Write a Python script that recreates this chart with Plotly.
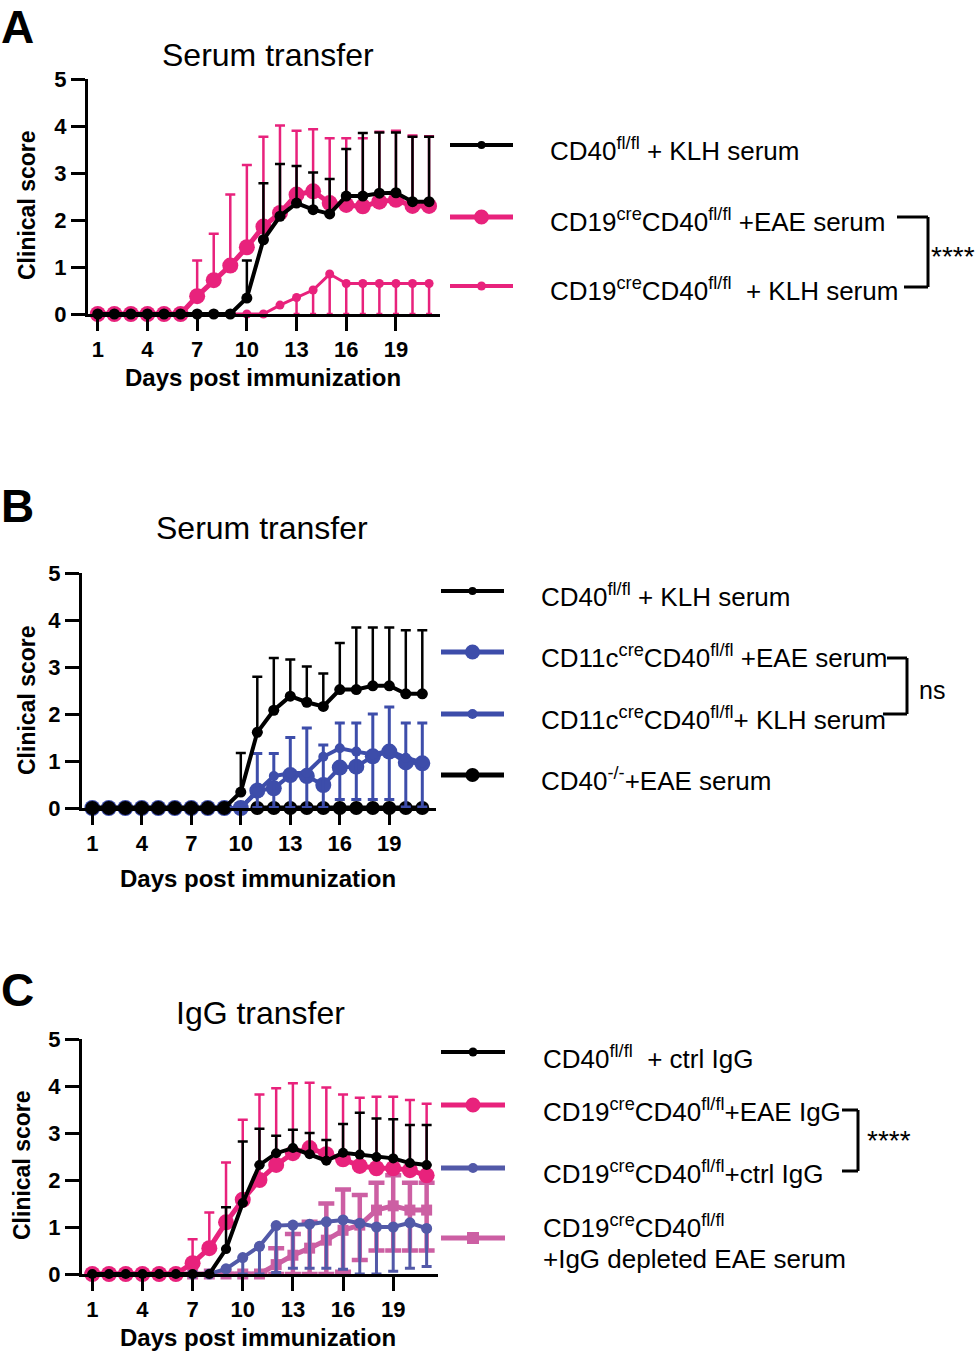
import plotly.graph_objects as go

W, H = 979, 1351
FONT = "Liberation Sans, Arial, Helvetica, sans-serif"
PINK = "#E8227C"
BLUE_B = "#3D4DAA"
BLUE_C = "#5259A8"
MAUVE = "#CC5FA3"
BLACK = "#000000"

days = list(range(1, 22))
x_ticks = [1, 4, 7, 10, 13, 16, 19]
y_ticks = [0, 1, 2, 3, 4, 5]

# ---------- Panel A : serum transfer ----------
A_ctrl_klh = [0]*9 + [0.34, 1.58, 2.08, 2.36, 2.22, 2.13, 2.51, 2.51, 2.57, 2.58, 2.39, 2.39]
A_ctrl_klh_sd = [0]*9 + [0.80, 1.20, 1.11, 0.79, 0.79, 0.74, 1.00, 1.34, 1.29, 1.28, 1.38, 1.38]
A_cd19_eae = [0]*6 + [0.38, 0.72, 1.03, 1.42, 1.86, 2.15, 2.54, 2.61, 2.36, 2.32, 2.29, 2.39, 2.43, 2.30, 2.30]
A_cd19_eae_sd = [0]*6 + [0.76, 0.99, 1.51, 1.75, 1.91, 1.86, 1.36, 1.32, 1.38, 1.42, 1.45, 1.49, 1.47, 1.50, 1.48]
A_cd19_klh = [0]*11 + [0.19, 0.35, 0.51, 0.85, 0.65, 0.65, 0.65, 0.65, 0.65, 0.65]
A_cd19_klh_sd_minus = [0]*12 + [0.35, 0.51, 0.85, 0.65, 0.65, 0.65, 0.65, 0.65, 0.65]

# ---------- Panel B : serum transfer (CD11c) ----------
B_ctrl_klh = [0]*9 + [0.34, 1.61, 2.08, 2.38, 2.25, 2.16, 2.52, 2.52, 2.60, 2.60, 2.43, 2.43]
B_ctrl_klh_sd = [0]*9 + [0.83, 1.18, 1.11, 0.78, 0.76, 0.70, 0.99, 1.32, 1.24, 1.24, 1.35, 1.35]
B_cd11c_eae = [0]*10 + [0.37, 0.42, 0.70, 0.68, 0.49, 0.86, 0.88, 1.10, 1.20, 0.97, 0.95]
B_cd11c_klh = [0]*10 + [0.35, 0.68, 0.74, 0.75, 1.09, 1.27, 1.20, 1.14, 1.22, 1.07, 0.97]
B_cd11c_plus = [0]*10 + [0.81, 0.48, 0.76, 0.95, 0.25, 0.54, 0.61, 0.86, 0.93, 0.74, 0.84]
B_cd11c_minus = [0]*10 + [0.34, 0.67, 0.73, 0.74, 1.08, 1.09, 1.02, 0.96, 1.04, 1.05, 0.95]
B_ko_eae = [0]*9 + [None] + [0]*11

# ---------- Panel C : IgG transfer ----------
C_ctrl_igg = [0]*8 + [0.53, 1.51, 2.32, 2.57, 2.68, 2.55, 2.41, 2.58, 2.54, 2.49, 2.46, 2.36, 2.32]
C_ctrl_igg_sd = [0]*8 + [0.89, 1.31, 0.77, 0.37, 0.39, 0.45, 0.44, 0.61, 0.89, 0.82, 0.83, 0.81, 0.85]
C_cd19_eae = [0]*6 + [0.23, 0.55, 1.10, 1.58, 2.00, 2.32, 2.57, 2.68, 2.55, 2.44, 2.30, 2.25, 2.25, 2.21, 2.10]
C_cd19_eae_sd = [0]*6 + [0.51, 0.76, 1.27, 1.70, 1.82, 1.63, 1.49, 1.39, 1.42, 1.38, 1.45, 1.52, 1.52, 1.49, 1.52]
C_cd19_ctrl = [0]*8 + [0.11, 0.35, 0.59, 1.03, 1.04, 1.06, 1.11, 1.15, 1.08, 1.00, 1.00, 1.09, 0.97]
C_cd19_ctrl_minus = [0]*8 + [0, 0.35, 0.59, 1.00, 0.92, 0.94, 0.99, 1.05, 1.08, 1.00, 0.94, 0.97, 0.81]
C_cd19_depl = [0]*11 + [0.20, 0.40, 0.55, 0.72, 0.93, 1.04, 1.36, 1.45, 1.36, 1.36]
C_cd19_depl_plus = [0]*11 + [0.35, 0.45, 0.56, 0.78, 0.87, 0.64, 0.58, 0.65, 0.58, 0.58]
C_cd19_depl_minus = [0]*11 + [0.20, 0.40, 0.55, 0.72, 0.88, 0.74, 0.86, 0.95, 0.86, 0.86]


def px(x):
    return x / W


def py(y):
    return 1 - y / H


fig = go.Figure()


def add(n, y, color, size, lw, symbol="circle", plus=None, minus=None,
        capw=5, ethick=2.5):
    xa = "x" if n == 1 else f"x{n}"
    ya = "y" if n == 1 else f"y{n}"
    tr = go.Scatter(
        x=days, y=y, xaxis=xa, yaxis=ya, mode="lines+markers",
        line=dict(color=color, width=lw),
        marker=dict(color=color, size=size, symbol=symbol, line=dict(width=0)),
        cliponaxis=False, showlegend=False, hoverinfo="skip",
    )
    if plus is not None or minus is not None:
        tr.error_y = dict(
            type="data", symmetric=False, visible=True,
            array=plus if plus is not None else [0]*len(days),
            arrayminus=minus if minus is not None else [0]*len(days),
            color=color, thickness=ethick, width=capw,
        )
    fig.add_trace(tr)


# Panel A traces
add(1, A_cd19_klh, PINK, 9, 3, minus=A_cd19_klh_sd_minus, capw=3, ethick=2.5)
add(1, A_cd19_eae, PINK, 16, 5, plus=A_cd19_eae_sd)
add(1, A_ctrl_klh, BLACK, 11, 4, plus=A_ctrl_klh_sd)

# Panel B traces
add(2, B_cd11c_eae, BLUE_B, 16, 4)
add(2, B_ko_eae, BLACK, 14, 5)
add(2, B_cd11c_klh, BLUE_B, 10, 4, plus=B_cd11c_plus, minus=B_cd11c_minus, ethick=3)
add(2, B_ctrl_klh, BLACK, 11, 4, plus=B_ctrl_klh_sd)

# Panel C traces
add(3, C_cd19_depl, MAUVE, 11, 5, symbol="square", plus=C_cd19_depl_plus,
    minus=C_cd19_depl_minus, capw=8, ethick=4.5)
add(3, C_cd19_ctrl, BLUE_C, 11, 4, minus=C_cd19_ctrl_minus, ethick=3)
add(3, C_cd19_eae, PINK, 16, 5, plus=C_cd19_eae_sd)
add(3, C_ctrl_igg, BLACK, 10, 4, plus=C_ctrl_igg_sd)

common = dict(
    showline=True, linewidth=3, linecolor="black", ticks="outside", ticklen=14,
    tickwidth=3, tickcolor="black", showgrid=False, zeroline=False,
    tickfont=dict(family=FONT, size=22, color="black", weight="bold"),
    fixedrange=True, automargin=False,
)

panels = [
    # n, x_left_px, x_right_px, y0_px, y5_px, xrange
    (1, 88, 440, 314, 79, [0.41, 21.66]),
    (2, 82, 436, 808, 573, [0.376, 21.83]),
    (3, 82, 438, 1274, 1039, [0.384, 21.68]),
]
layout_axes = {}
for n, xl, xr_, y0, y5, xrng in panels:
    sfx = "" if n == 1 else str(n)
    layout_axes[f"xaxis{sfx}"] = dict(
        domain=[px(xl), px(xr_)], range=xrng, tickvals=x_ticks,
        anchor=f"y{sfx}", **common)
    layout_axes[f"yaxis{sfx}"] = dict(
        domain=[py(y0), py(y5)], range=[0, 5], tickvals=y_ticks,
        anchor=f"x{sfx}", **common)

annotations = []
shapes = []


def text(x, y, s, size=26, bold=False, xanchor="left", angle=0, yanchor="middle"):
    annotations.append(dict(
        x=px(x), y=py(y), xref="paper", yref="paper", text=s, showarrow=False,
        xanchor=xanchor, yanchor=yanchor, textangle=angle, borderpad=0,
        font=dict(family=FONT, size=size, color="black",
                  weight="bold" if bold else "normal"),
    ))


def seg(x0, y0, x1, y1, color="black", width=3):
    shapes.append(dict(type="line", xref="paper", yref="paper",
                       x0=px(x0), y0=py(y0), x1=px(x1), y1=py(y1),
                       line=dict(color=color, width=width)))


def marker(x, y, d, color, kind="circle"):
    r = d / 2
    shapes.append(dict(type=kind, xref="paper", yref="paper",
                       xsizemode="pixel", ysizemode="pixel",
                       xanchor=px(x), yanchor=py(y),
                       x0=-r, x1=r, y0=-r, y1=r,
                       fillcolor=color, line=dict(width=0)))


def sample(x0, x1, y, color, lw, d, kind="circle"):
    seg(x0, y, x1, y, color, lw)
    marker((x0 + x1) / 2, y, d, color, kind)


# panel letters and titles
text(0, 0, "A", size=46, bold=True, yanchor="top")
text(0, 506, "B", size=46, bold=True)
text(0, 990, "C", size=46, bold=True)
text(268, 55, "Serum transfer", size=32, xanchor="center")
text(262, 528, "Serum transfer", size=32, xanchor="center")
text(260, 1013, "IgG transfer", size=32, xanchor="center")

# axis titles
for cx, cy in [(263, 377), (258, 878), (258, 1337)]:
    text(cx, cy, "Days post immunization", size=24, bold=True, xanchor="center")
for cx, cy in [(27, 205), (27, 700), (22, 1165)]:
    text(cx, cy, "Clinical score", size=23, bold=True, xanchor="center", angle=-90)

# Legend A
sample(450, 513, 145, BLACK, 4, 8)
sample(450, 513, 217, PINK, 5, 15)
sample(450, 513, 286, PINK, 4, 9)
text(549, 150, "CD40<sup>fl/fl</sup> + KLH serum")
text(549, 220, "CD19<sup>cre</sup>CD40<sup>fl/fl</sup> +EAE serum")
text(549, 289, "CD19<sup>cre</sup>CD40<sup>fl/fl</sup>&nbsp; + KLH serum")
seg(897, 217, 928, 217)
seg(928, 217, 928, 287)
seg(904, 287, 928, 287)
text(930, 256, "****", size=28)

# Legend B
sample(441, 504, 591, BLACK, 4, 8)
sample(441, 504, 652, BLUE_B, 5, 15)
sample(441, 504, 714, BLUE_B, 5, 10)
sample(441, 504, 775, BLACK, 5, 14)
text(540, 595, "CD40<sup>fl/fl</sup> + KLH serum")
text(540, 656, "CD11c<sup>cre</sup>CD40<sup>fl/fl</sup> +EAE serum")
text(540, 718, "CD11c<sup>cre</sup>CD40<sup>fl/fl</sup>+ KLH serum")
text(540, 779, "CD40<sup>-/-</sup>+EAE serum")
seg(887, 658, 907, 658)
seg(907, 658, 907, 714)
seg(883, 714, 907, 714)
text(918, 690, "ns", size=25)

# Legend C
sample(441, 505, 1052, BLACK, 4, 9)
sample(441, 505, 1105, PINK, 5, 15)
sample(441, 505, 1168, BLUE_C, 5, 10)
sample(441, 505, 1238, MAUVE, 5, 12, kind="rect")
text(542, 1057, "CD40<sup>fl/fl</sup>&nbsp; + ctrl IgG")
text(542, 1110, "CD19<sup>cre</sup>CD40<sup>fl/fl</sup>+EAE IgG")
text(542, 1172, "CD19<sup>cre</sup>CD40<sup>fl/fl</sup>+ctrl IgG")
text(542, 1226, "CD19<sup>cre</sup>CD40<sup>fl/fl</sup>")
text(542, 1259, "+IgG depleted EAE serum")
seg(842, 1110, 858, 1110)
seg(858, 1110, 858, 1171)
seg(842, 1171, 858, 1171)
text(866, 1140, "****", size=28)

fig.update_layout(
    width=W, height=H,
    margin=dict(l=0, r=0, t=0, b=0, pad=0, autoexpand=False),
    paper_bgcolor="white", plot_bgcolor="white",
    showlegend=False, annotations=annotations, shapes=shapes,
    font=dict(family=FONT, color="black"),
    **layout_axes,
)

fig.write_html(
    "out.html",
    config={"displayModeBar": False},
    post_script=(
        "document.documentElement.style.margin='0';"
        "document.body.style.margin='0';"
        "document.documentElement.style.overflow='hidden';"
        "document.body.style.overflow='hidden';"
    ),
)
